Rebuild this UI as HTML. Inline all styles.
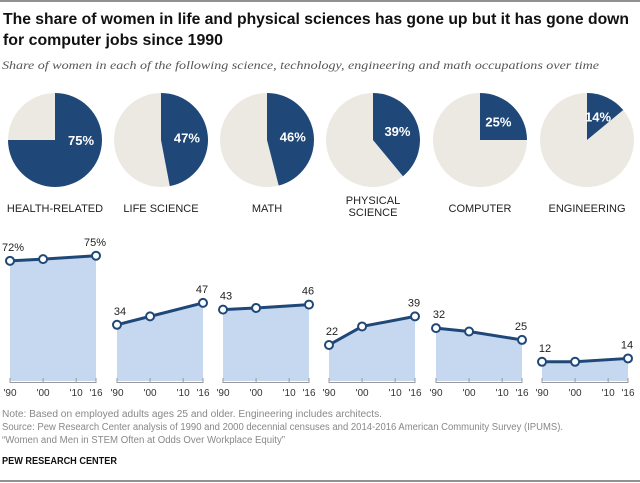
<!DOCTYPE html>
<html><head><meta charset="utf-8">
<style>
body{margin:0;background:#fff;width:640px;height:483px;overflow:hidden;font-family:"Liberation Sans",sans-serif}
svg{display:block;font-family:"Liberation Sans",sans-serif}
</style></head>
<body>
<svg id="c" width="640" height="483" viewBox="0 0 640 483" font-family="Liberation Sans, sans-serif">
<line x1="0" y1="1" x2="640" y2="1" stroke="#222" stroke-width="1"/>
<text x="3" y="24" font-size="15.5" font-weight="bold" fill="#111" textLength="626" lengthAdjust="spacingAndGlyphs">The share of women in life and physical sciences has gone up but it has gone down</text>
<text x="3" y="45" font-size="15.5" font-weight="bold" fill="#111" textLength="220" lengthAdjust="spacingAndGlyphs">for computer jobs since 1990</text>
<text x="2" y="69" font-size="12" font-style="italic" fill="#555" font-family="Liberation Serif,serif" textLength="597" lengthAdjust="spacingAndGlyphs">Share of women in each of the following science, technology, engineering and math occupations over time</text>
<g id="pies"></g>
<g id="lines"></g>
<text x="2" y="417" font-size="10" fill="#888" textLength="380" lengthAdjust="spacingAndGlyphs">Note: Based on employed adults ages 25 and older. Engineering includes architects.</text>
<text x="2" y="430" font-size="10" fill="#888" textLength="561" lengthAdjust="spacingAndGlyphs">Source: Pew Research Center analysis of 1990 and 2000 decennial censuses and 2014-2016 American Community Survey (IPUMS).</text>
<text x="2" y="443" font-size="10" fill="#888" textLength="283" lengthAdjust="spacingAndGlyphs">“Women and Men in STEM Often at Odds Over Workplace Equity”</text>
<text x="2" y="464" font-size="10" font-weight="bold" fill="#111" textLength="115" lengthAdjust="spacingAndGlyphs">PEW RESEARCH CENTER</text>
<line x1="0" y1="481" x2="640" y2="481" stroke="#222" stroke-width="1"/>
</svg>
<script>
const categories=["HEALTH-RELATED","LIFE SCIENCE","MATH","PHYSICAL|SCIENCE","COMPUTER","ENGINEERING"];
const pieValues=[75,47,46,39,25,14];
const years=[1990,2000,2016];
const series=[[72,73,75],[34,39,47],[43,44,46],[22,33,39],[32,30,25],[12,12,14]];
const tickYears=[1990,2000,2010,2016];
const tickLabels=["'90","'00","'10","'16"];

const NS="http://www.w3.org/2000/svg";
function mk(tag,attrs,parent){const e=document.createElementNS(NS,tag);for(const k in attrs)e.setAttribute(k,attrs[k]);parent.appendChild(e);return e;}
const pies=document.getElementById('pies'),lines=document.getElementById('lines');
const pieCx=[55,161,267,373,480,587],pieCy=140,R=47;
const panelX0=[10,117,223,329,436,542],panelW=86;
const yS=v=>382-1.683*v;
const xS=(i,yr)=>panelX0[i]+(yr-1990)/26*panelW;

categories.forEach((cat,i)=>{
  const cx=pieCx[i],cy=pieCy,v=pieValues[i];
  const bg=mk('circle',{cx:cx,cy:cy,r:R,fill:'#ece9e3'},pies);
  
  
  const a=v/100*2*Math.PI;
  const x1=cx+R*Math.sin(a),y1=cy-R*Math.cos(a);
  const sl=mk('path',{d:`M${cx},${cy} L${cx},${cy-R} A${R},${R} 0 ${v>50?1:0} 1 ${x1},${y1} Z`,fill:'#1f4879'},pies);
  
  
  const mid=Math.min(a/2,Math.PI/2);
  const t=mk('text',{x:cx+26*Math.sin(mid),y:cy-26*Math.cos(mid)+5,'font-size':13,'font-weight':'bold',fill:'#fff','text-anchor':'middle'},pies);
  t.textContent=v+'%';
  
  
  const parts=cat.split('|');
  parts.forEach((p,j)=>{
    const ct=mk('text',{x:cx,y:(parts.length>1?204:212)+j*12,'font-size':11,fill:'#222','text-anchor':'middle'},pies);
    ct.textContent=p;
    
    
  });

  const s=series[i];
  const pts=s.map((val,k)=>[xS(i,years[k]),yS(val)]);
  const area=mk('path',{d:'M'+pts.map(p=>p.join(',')).join(' L')+` L${pts[2][0]},381 L${pts[0][0]},381 Z`,fill:'#c6d8ef'},lines);
  
  
  const ln=mk('polyline',{points:pts.map(p=>p.join(',')).join(' '),fill:'none',stroke:'#1f4879','stroke-width':3},lines);
  
  
  pts.forEach((p,k)=>{
    const c=mk('circle',{cx:p[0],cy:p[1],r:4,fill:'#fff',stroke:'#1f4879','stroke-width':2},lines);
    
    
  });
  [0,2].forEach(k=>{
    const lt=mk('text',{x:pts[k][0]+(k==0?3:-1),y:pts[k][1]-10,'font-size':11,fill:'#222','text-anchor':'middle'},lines);
    lt.textContent=s[k]+(i==0?'%':'');
    
    
  });
  const ax=mk('line',{x1:panelX0[i],y1:382.5,x2:panelX0[i]+panelW,y2:382.5,stroke:'#999','stroke-width':1},lines);
  
  
  tickYears.forEach((yr,k)=>{
    const x=xS(i,yr);
    const tk=mk('line',{x1:x,y1:378,x2:x,y2:383,stroke:'#999','stroke-width':1},lines);
    
    
    const tl=mk('text',{x:x,y:396,'font-size':10,fill:'#333','text-anchor':'middle'},lines);
    tl.textContent=tickLabels[k];
    
    
  });
});
</script>
</body></html>
